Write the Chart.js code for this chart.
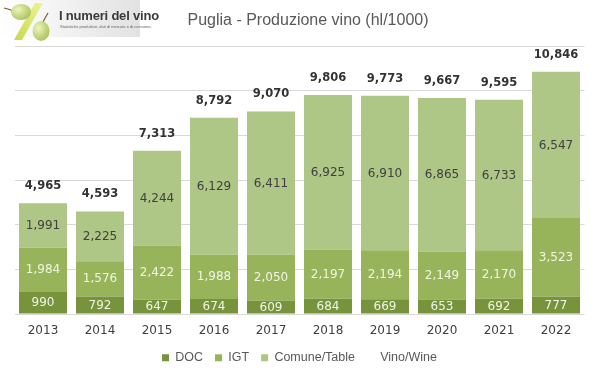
<!DOCTYPE html>
<html><head><meta charset="utf-8">
<script src="https://cdn.jsdelivr.net/npm/chart.js@4.4.1/dist/chart.umd.min.js"></script>
<style>
html,body{margin:0;padding:0;background:#fff;}
#wrap{position:relative;width:599px;height:378px;overflow:hidden;}
#c{position:absolute;left:0;top:0;}
#title{position:absolute;top:11px;left:0;width:616px;text-align:center;font:16px 'Liberation Sans',Arial,sans-serif;color:#595959;}
#logo{position:absolute;left:0;top:0;width:140px;height:37px;background:linear-gradient(to right,#ffffff 0%,#f2f2f2 45%,#e2e2e2 100%);}
#logo svg{position:absolute;left:0;top:0;}
#lt{position:absolute;left:59px;top:8px;font:bold 13px 'Liberation Sans Narrow','Liberation Sans',Arial,sans-serif;color:#3a3a3a;white-space:nowrap;letter-spacing:-0.2px;}
#ls{position:absolute;left:60px;top:24px;font:8px 'Liberation Sans',Arial,sans-serif;color:#666;white-space:nowrap;transform:scale(0.5);transform-origin:0 0;}
</style></head>
<body><div id="wrap">
<canvas id="c" width="599" height="378"></canvas>
<div id="logo">
<svg width="60" height="42" viewBox="0 0 60 42">
<defs><linearGradient id="g1" x1="0" y1="1" x2="1" y2="0"><stop offset="0" stop-color="#c8d84a"/><stop offset="1" stop-color="#eef29a"/></linearGradient>
<radialGradient id="g2" cx="0.35" cy="0.35" r="0.7"><stop offset="0" stop-color="#eef5c0"/><stop offset="1" stop-color="#a9c45a"/></radialGradient></defs>
<polygon points="14,40 22,40 43,3 35,3" fill="url(#g1)"/>
<path d="M4,8 Q9,9 13,11" stroke="#7a5a2a" stroke-width="1.2" fill="none"/>
<ellipse cx="21" cy="12" rx="10" ry="8" fill="url(#g2)"/>
<path d="M48,13 Q45,18 43,22" stroke="#7a5a2a" stroke-width="1.2" fill="none"/>
<ellipse cx="41" cy="31" rx="8.5" ry="10" fill="url(#g2)"/>
</svg>
<div id="lt">I numeri del vino</div>
<div id="ls">Statistiche produttive, dati di mercato e di consumo.</div>
</div>
<div id="title">Puglia - Produzione vino (hl/1000)</div>
</div>
<script>
const years = ['2013','2014','2015','2016','2017','2018','2019','2020','2021','2022'];
const docValues = [990, 792, 647, 674, 609, 684, 669, 653, 692, 777];
const igtValues = [1984, 1576, 2422, 1988, 2050, 2197, 2194, 2149, 2170, 3523];
const comuneValues = [1991, 2225, 4244, 6129, 6411, 6925, 6910, 6865, 6733, 6547];
const totalValues = [4965, 4593, 7313, 8792, 9070, 9806, 9773, 9667, 9595, 10846];
const seriesNames = ['DOC', 'IGT', 'Comune/Table', 'Vino/Wine'];

const fmt = v => v.toLocaleString('en-US');

const labelPlugin = {
  id: 'segLabels',
  afterDatasetsDraw(chart) {
    const ctx = chart.ctx;
    ctx.save();
    ctx.textAlign = 'center';
    ctx.textBaseline = 'middle';
    chart.data.datasets.forEach((ds, i) => {
      const meta = chart.getDatasetMeta(i);
      meta.data.forEach((el, j) => {
        const v = ds.data[j];
        if (ds.type === 'line') {
          ctx.font = 'bold 11.5px "DejaVu Sans", sans-serif';
          ctx.fillStyle = '#333333';
          ctx.fillText(fmt(v), el.x, el.y - 17);
        } else {
          ctx.font = '12px "DejaVu Sans", sans-serif';
          ctx.fillStyle = ds.labelColor;
          ctx.fillText(fmt(v), el.x, (el.y + el.base) / 2 + 0.5);
        }
      });
    });
    ctx.restore();
  }
};

new Chart(document.getElementById('c'), {
  data: {
    labels: years,
    datasets: [
      { type: 'bar', label: seriesNames[0], data: docValues, backgroundColor: '#77933c', labelColor: '#f2f4e6', borderWidth: 0 },
      { type: 'bar', label: seriesNames[1], data: igtValues, backgroundColor: '#97b45a', labelColor: '#f2f4e6', borderWidth: 0 },
      { type: 'bar', label: seriesNames[2], data: comuneValues, backgroundColor: '#aec686', labelColor: '#404040', borderWidth: 0 },
      { type: 'line', label: seriesNames[3], data: totalValues, stack: 'total', showLine: false, pointRadius: 0,
        borderColor: 'rgba(0,0,0,0)', backgroundColor: 'rgba(0,0,0,0)', borderWidth: 0 }
    ]
  },
  options: {
    responsive: false,
    animation: false,
    events: [],
    layout: { padding: { top: 46, left: 14.5, right: 14.5, bottom: 4 } },
    datasets: { bar: { categoryPercentage: 0.842, barPercentage: 1 } },
    scales: {
      x: {
        stacked: true,
        grid: { display: false, drawTicks: false },
        border: { display: false },
        ticks: { color: '#404040', padding: 10, font: { family: 'DejaVu Sans', size: 12 } },
        afterFit: (scale) => { scale.height -= 9; }
      },
      y: {
        stacked: true,
        min: 0, max: 12000,
        grid: { color: '#d9d9d9', lineWidth: 1, drawTicks: false },
        border: { display: false },
        ticks: { display: false, stepSize: 2000 }
      }
    },
    plugins: {
      title: { display: false },
      tooltip: { enabled: false },
      legend: {
        position: 'bottom',
        labels: {
          boxWidth: 7, boxHeight: 7, padding: 12,
          color: '#595959',
          font: { family: 'Liberation Sans', size: 12.5 }
        }
      }
    }
  },
  plugins: [labelPlugin]
});
</script>
</body></html>
